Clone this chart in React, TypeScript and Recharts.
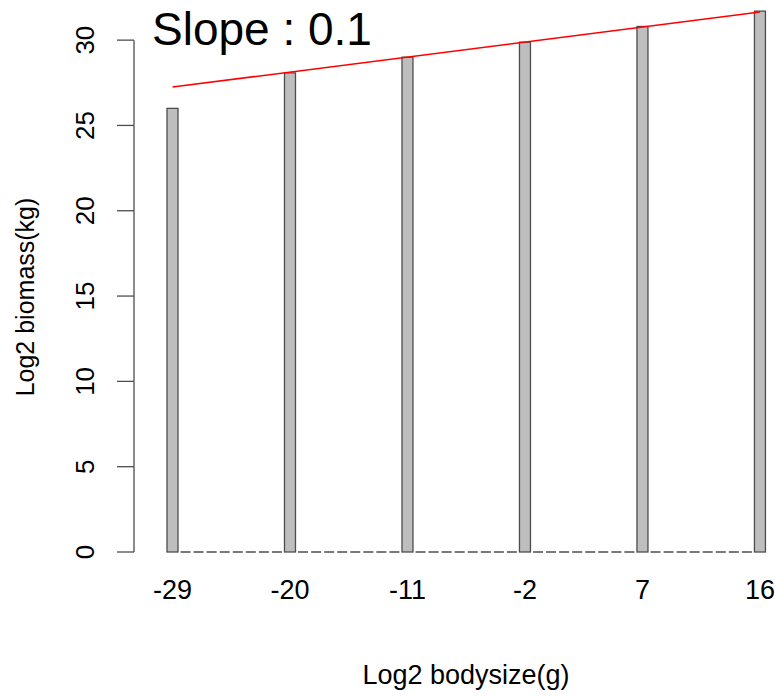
import { ComposedChart, Bar, Line, XAxis, YAxis, Label } from "recharts";

// log2 body size classes (g), one bar per class
const bodySizes = [
  -29, -28, -27, -26, -25, -24, -23, -22, -21, -20, -19, -18, -17, -16, -15, -14,
  -13, -12, -11, -10, -9, -8, -7, -6, -5, -4, -3, -2, -1, 0, 1, 2, 3, 4, 5, 6, 7,
  8, 9, 10, 11, 12, 13, 14, 15, 16,
];
// log2 biomass (kg), only the sampled classes are non-zero
const occupied = [-29, -20, -11, -2, 7, 16];
const occupiedBiomass = [26.0, 28.08, 29.0, 29.88, 30.8, 31.7];
// fitted line, read at the first and last class
const trendEnds = [27.25, 31.65];
const yTicks = [0, 5, 10, 15, 20, 25, 30];

const data = bodySizes.map((s, i) => {
  const k = occupied.indexOf(s);
  return {
    size: String(s),
    biomass: k >= 0 ? occupiedBiomass[k] : 0,
    trend: i === 0 ? trendEnds[0] : i === bodySizes.length - 1 ? trendEnds[1] : null,
  };
});

const FONT = "'Liberation Sans', Arial, sans-serif";
const Y_MAX = 32;
const PLOT_TOP = 6;
const PLOT_H = 546;
const PX_PER_UNIT = PLOT_H / Y_MAX;

const BarShape = (p: any) => {
  const { x, y, width, height } = p;
  if (!height || height < 0.5) {
    return <line x1={x + 0.5} x2={x + width - 0.5} y1={y} y2={y} stroke="#4d4d4d" strokeWidth={1.5} />;
  }
  return <rect x={x} y={y} width={width} height={height} fill="#BEBEBE" stroke="#4d4d4d" strokeWidth={1.3} />;
};

const YTick = (p: any) => {
  const { x, y, payload } = p;
  const v = payload.value as number;
  return (
    <g>
      <line x1={x - 17} x2={x} y1={y} y2={y} stroke="#4d4d4d" strokeWidth={1.3} />
      {v < 30 && <line x1={x} x2={x} y1={y} y2={y - 5 * PX_PER_UNIT} stroke="#4d4d4d" strokeWidth={1.3} />}
      <text
        x={x - 49}
        y={y}
        transform={`rotate(-90, ${x - 49}, ${y})`}
        textAnchor="middle"
        dominantBaseline="central"
        fontSize={26}
        fontFamily={FONT}
        fill="#000"
      >
        {v}
      </text>
    </g>
  );
};

export default function App() {
  return (
    <div style={{ position: "absolute", left: 0, top: 0, width: 775, height: 696, background: "#fff" }}>
      <ComposedChart
        width={775}
        height={696}
        data={data}
        barCategoryGap={0}
        margin={{ top: PLOT_TOP, right: 8.5, left: 0, bottom: 84 }}
      >
        <XAxis
          dataKey="size"
          interval={8}
          axisLine={false}
          tickLine={false}
          padding={{ left: 24, right: 0 }}
          height={60}
          tick={{ fill: "#000", fontSize: 27, fontFamily: FONT, dy: 20 }}
        >
          <Label
            content={() => (
              <text x={466} y={684} textAnchor="middle" fontSize={27} fontFamily={FONT} fill="#000">
                Log2 bodysize(g)
              </text>
            )}
          />
        </XAxis>
        <YAxis
          domain={[0, Y_MAX]}
          ticks={yTicks}
          width={142}
          axisLine={false}
          tickLine={false}
          tick={<YTick />}
        >
          <Label
            content={() => (
              <text
                x={25}
                y={297}
                transform="rotate(-90, 25, 297)"
                textAnchor="middle"
                dominantBaseline="central"
                fontSize={25}
                fontFamily={FONT}
                fill="#000"
              >
                Log2 biomass(kg)
              </text>
            )}
          />
        </YAxis>
        <Bar dataKey="biomass" barSize={11} shape={<BarShape />} isAnimationActive={false} />
        <Line
          dataKey="trend"
          stroke="#ff0000"
          strokeWidth={1.5}
          dot={false}
          connectNulls
          isAnimationActive={false}
        />
      </ComposedChart>
      <div
        style={{
          position: "absolute",
          left: 152,
          top: 3,
          fontFamily: FONT,
          fontSize: 46,
          lineHeight: "52px",
          color: "#000",
          whiteSpace: "nowrap",
        }}
      >
        Slope : 0.1
      </div>
    </div>
  );
}
